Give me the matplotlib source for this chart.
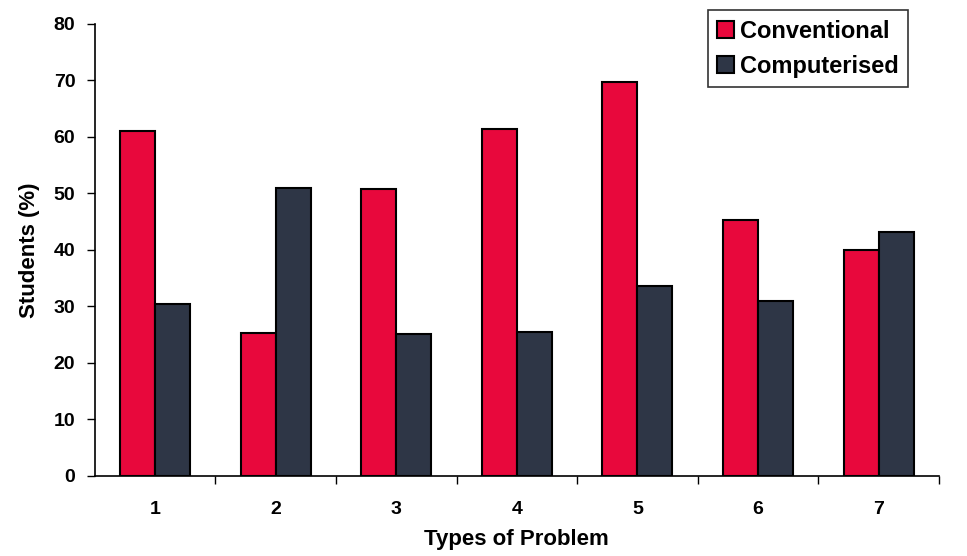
import matplotlib.pyplot as plt
import numpy as np

problem_types = ["1", "2", "3", "4", "5", "6", "7"]
conventional = [61.0, 25.3, 50.8, 61.4, 69.8, 45.3, 40.0]
computerised = [30.4, 51.0, 25.2, 25.4, 33.6, 31.0, 43.1]

red = "#E8083C"
navy = "#2E3646"

plt.rcParams["font.family"] = ["Liberation Sans", "DejaVu Sans"]
plt.rcParams["font.weight"] = "bold"

fig = plt.figure(figsize=(9.67, 5.56), dpi=100)
ax = fig.add_axes([0.098, 0.144, 0.873, 0.813])

x = np.arange(1, len(problem_types) + 1)
w = 0.29
ax.bar(x - w / 2, conventional, w, color=red, edgecolor="black", linewidth=1.5,
       label="Conventional")
ax.bar(x + w / 2, computerised, w, color=navy, edgecolor="black", linewidth=1.5,
       label="Computerised")

ax.set_xlim(0.5, 7.5)
ax.set_ylim(0, 80)
ax.set_yticks(range(0, 81, 10))
ax.set_xticks(x)
ax.set_xticklabels(problem_types)
ax.set_xticks(np.arange(1.5, 7.6, 1.0), minor=True)
ax.tick_params(axis="x", which="major", length=0, pad=18, labelsize=14)
ax.tick_params(axis="x", which="minor", length=6, width=1, direction="out")
ax.tick_params(axis="y", length=6, width=1, direction="out", labelsize=14, pad=8)

for side in ("top", "right"):
    ax.spines[side].set_visible(False)
ax.spines["left"].set_linewidth(1.2)
ax.spines["bottom"].set_linewidth(1.2)

ax.set_ylabel("Students (%)", fontsize=16, fontweight="bold", labelpad=10)
ax.set_xlabel("Types of Problem", fontsize=16, fontweight="bold", labelpad=8)

leg = ax.legend(loc="upper right", bbox_to_anchor=(0.963, 1.03), frameon=True,
                fancybox=False, edgecolor="black", fontsize=17,
                handlelength=0.7, handleheight=0.7, handletextpad=0.25,
                borderpad=0.4, labelspacing=0.5, borderaxespad=0)
leg.get_frame().set_linewidth(1.2)

fig.savefig("out.png", dpi=100)
